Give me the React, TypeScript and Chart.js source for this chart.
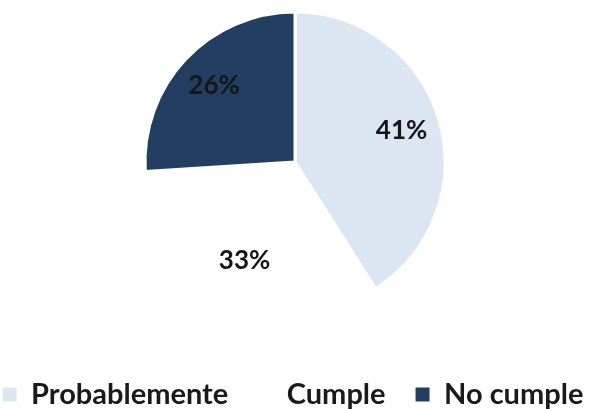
import React, { useEffect, useRef } from "react";
import { Chart, registerables } from "chart.js";

Chart.register(...registerables);

const categories = ["Probablemente", "Cumple", "No cumple"];
const values = [41, 33, 26];
const colors = ["#dce6f2", "#ffffff", "#223f61"];

const labelPlugin = {
  id: "sliceLabels",
  afterDatasetsDraw(chart: any) {
    const ctx = chart.ctx;
    const meta = chart.getDatasetMeta(0);
    ctx.save();
    ctx.font = "bold 26px Lato";
    ctx.fillStyle = "#161616";
    ctx.textAlign = "center";
    ctx.textBaseline = "middle";
    meta.data.forEach((arc: any, i: number) => {
      const p = arc.getProps(["x", "y", "startAngle", "endAngle", "outerRadius"], true);
      const mid = (p.startAngle + p.endAngle) / 2;
      const r = p.outerRadius * 0.74;
      ctx.fillText(values[i] + "%", p.x + Math.cos(mid) * r, p.y + Math.sin(mid) * r);
    });
    ctx.restore();
  },
};

export default function App() {
  const ref = useRef<HTMLCanvasElement>(null);
  useEffect(() => {
    const baseGen = (Chart as any).overrides.pie.plugins.legend.labels.generateLabels;
    const chart = new Chart(ref.current!, {
      type: "pie",
      data: {
        labels: categories,
        datasets: [
          {
            data: values,
            backgroundColor: colors,
            borderColor: "#ffffff",
            borderWidth: 3,
          },
        ],
      },
      options: {
        responsive: false,
        animation: false,
        radius: 150,
        layout: { padding: { top: 0, bottom: -10, left: -40, right: -36 } },
        plugins: {
          tooltip: { enabled: false },
          legend: {
            position: "bottom",
            title: { display: true, text: "", font: { size: 1, lineHeight: 1 }, padding: { top: 25, bottom: 0 } },
            labels: {
              boxWidth: 14,
              boxHeight: 14,
              padding: 30,
              color: "#1a1a1a",
              font: { family: "Lato", size: 29, weight: "bold" },
              generateLabels: (c: any) =>
                baseGen(c).map((l: any) => ({ ...l, lineWidth: 0 })),
            },
          },
        },
      } as any,
      plugins: [labelPlugin],
    });
    return () => chart.destroy();
  }, []);
  return (
    <div style={{ position: "absolute", left: 0, top: 0, width: 590, height: 409, background: "#fff" }}>
      <canvas ref={ref} width={590} height={409} />
    </div>
  );
}
